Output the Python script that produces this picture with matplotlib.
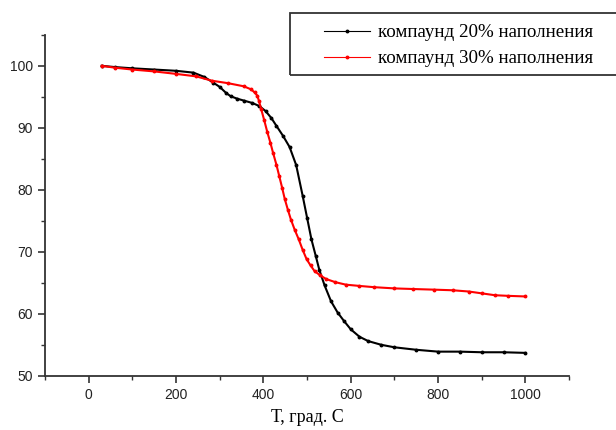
import matplotlib.pyplot as plt
from matplotlib.lines import Line2D
from matplotlib.patches import Rectangle
from matplotlib.ticker import MultipleLocator

# данные
t20 = [30, 60, 100, 150, 200, 240, 265, 285, 300, 315, 325, 340, 355, 375, 391,
       405, 418, 430, 445, 460, 475, 490, 500, 510, 520, 528, 540, 555, 570, 585,
       600, 620, 640, 670, 700, 750, 800, 850, 900, 950, 1000]
w20 = [100, 99.8, 99.6, 99.4, 99.2, 98.9, 98.2, 97.3, 96.6, 95.6, 95.1, 94.7, 94.4,
       94.0, 93.5, 92.7, 91.6, 90.3, 88.7, 86.9, 84.0, 79.0, 75.5, 72.0, 69.3, 67.1,
       64.6, 62.0, 60.2, 58.8, 57.5, 56.3, 55.6, 55.0, 54.6, 54.2, 53.9, 53.9, 53.8,
       53.8, 53.7]

t30 = [30, 60, 100, 150, 200, 246, 282, 319, 355, 372, 380, 386, 390, 395, 402,
       409, 416, 422, 430, 436, 443, 449, 456, 463, 472, 481, 490, 499, 508, 517,
       530, 544, 565, 589, 620, 653, 700, 743, 790, 833, 870, 900, 930, 960, 1000]
w30 = [100, 99.7, 99.4, 99.1, 98.7, 98.3, 97.6, 97.2, 96.7, 96.2, 95.7, 95.2, 94.3,
       93.0, 91.2, 89.3, 87.6, 86.0, 84.0, 82.3, 80.3, 78.5, 76.8, 75.2, 73.5, 72.0,
       70.3, 68.8, 67.8, 66.9, 66.2, 65.6, 65.1, 64.7, 64.5, 64.3, 64.1, 64.0, 63.9,
       63.8, 63.6, 63.3, 63.0, 62.9, 62.8]

labels = ['компаунд 20% наполнения', 'компаунд 30% наполнения']

W, H = 616, 430
fig = plt.figure(figsize=(W / 100, H / 100), dpi=100)
ax = fig.add_axes([0.073, 0.126, 0.851, 0.793])

ax.plot(t20, w20, color='black', lw=1.5, marker='o', ms=1.8)
ax.plot(t30, w30, color='red', lw=1.5, marker='o', ms=1.8)

ax.set_xlim(-100, 1100)
ax.set_ylim(50, 105)
ax.xaxis.set_major_locator(MultipleLocator(200))
ax.xaxis.set_minor_locator(MultipleLocator(100))
ax.yaxis.set_major_locator(MultipleLocator(10))
ax.yaxis.set_minor_locator(MultipleLocator(5))
ax.set_yticks(range(50, 101, 10))

for s in ['top', 'right']:
    ax.spines[s].set_visible(False)
for s in ['left', 'bottom']:
    ax.spines[s].set_linewidth(1.3)
    ax.spines[s].set_color('#333333')
ax.tick_params(which='major', direction='out', length=5, width=1.2,
               labelsize=10, colors='#333333', labelcolor='#222222')
ax.tick_params(which='minor', direction='out', length=3, width=1.0, colors='#333333')
for lab in ax.get_xticklabels() + ax.get_yticklabels():
    lab.set_family('Liberation Sans')

ax.set_xlabel('Т, град. С', family='Liberation Serif', fontsize=13, labelpad=5)

# рамка легенды уходит за правый край
fig.patches.append(Rectangle((290 / W, 1 - 75 / H), 340 / W, 62 / H, transform=fig.transFigure,
                             fill=False, edgecolor='#333333', lw=1.3, clip_on=False))

handles = [Line2D([], [], color='black', lw=0.8, marker='o', ms=1.8),
           Line2D([], [], color='red', lw=0.8, marker='o', ms=1.8)]
fig.legend(handles, labels, loc='upper left', bbox_to_anchor=(324 / W, 1 - 24 / H),
           numpoints=1, handlelength=2.4, handletextpad=0.45, frameon=False,
           borderpad=0, labelspacing=0.45, borderaxespad=0,
           prop={'family': 'Liberation Serif', 'size': 13.7})

fig.savefig('out.png', dpi=100)
